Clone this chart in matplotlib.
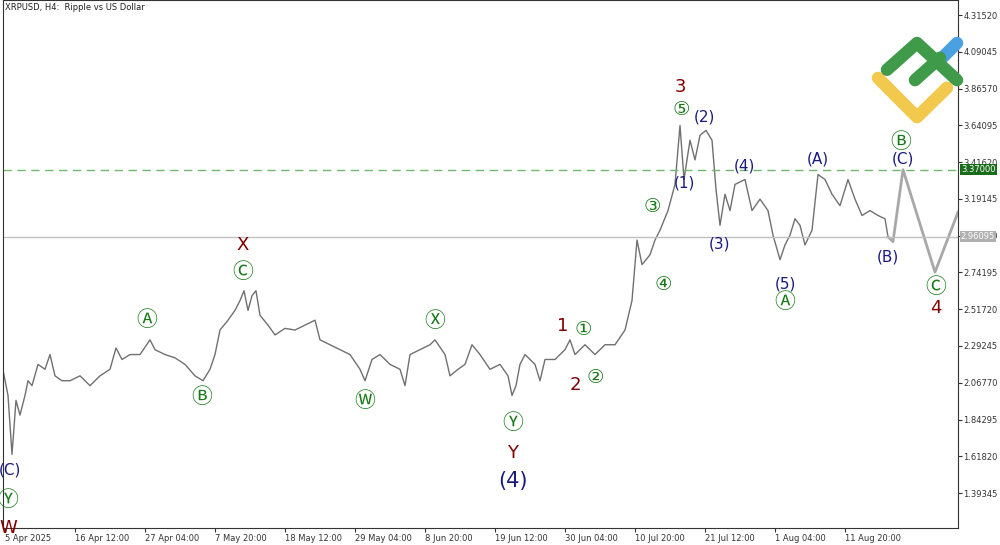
import matplotlib
matplotlib.use("Agg")
import matplotlib.pyplot as plt

plt.rcParams["font.family"] = ["DejaVu Sans", "Noto Sans CJK SC"]

# bar index (one per chart column) and close price
bars = [0, 5, 9, 13, 17, 22, 25, 29, 35, 42, 47, 52, 59, 67, 77, 87, 97, 107, 113, 119, 127, 137,
        147, 152, 162, 172, 182, 192, 200, 207, 212, 217, 225, 232, 237, 241, 245, 249, 253, 257,
        265, 272, 282, 292, 302, 312, 317, 327, 337, 347, 357, 362, 369, 377, 387, 397, 402, 407,
        417, 427, 432, 442, 447, 455, 462, 469, 477, 487, 497, 505, 509, 513, 517, 522, 532, 537,
        542, 552, 562, 567, 572, 582, 592, 602, 612, 622, 629, 634, 639, 647, 652, 657, 665, 672,
        677, 681, 687, 692, 697, 703, 709, 713, 717, 722, 727, 732, 742, 749, 757, 765, 770, 777,
        782, 787, 792, 797, 802, 809, 815, 822, 829, 837, 845, 852, 859, 867, 875, 882, 885]
close = [2.145, 1.99, 1.63, 1.96, 1.87, 1.99, 2.08, 2.05, 2.18, 2.15, 2.24, 2.11, 2.08, 2.08, 2.11,
         2.05, 2.11, 2.15, 2.28, 2.21, 2.24, 2.24, 2.33, 2.27, 2.24, 2.22, 2.18, 2.11, 2.08, 2.15,
         2.24, 2.39, 2.45, 2.51, 2.57, 2.63, 2.51, 2.60, 2.63, 2.48, 2.42, 2.36, 2.40, 2.39, 2.42,
         2.45, 2.33, 2.30, 2.27, 2.24, 2.15, 2.08, 2.21, 2.24, 2.18, 2.15, 2.05, 2.24, 2.27, 2.30,
         2.33, 2.24, 2.11, 2.15, 2.18, 2.30, 2.24, 2.15, 2.18, 2.11, 1.99, 2.05, 2.18, 2.24, 2.18,
         2.08, 2.21, 2.21, 2.27, 2.33, 2.24, 2.30, 2.24, 2.30, 2.30, 2.39, 2.57, 2.94, 2.79, 2.85,
         2.94, 3.00, 3.12, 3.28, 3.64, 3.31, 3.55, 3.43, 3.58, 3.61, 3.55, 3.25, 3.03, 3.22, 3.12,
         3.28, 3.31, 3.12, 3.19, 3.12, 2.97, 2.82, 2.91, 2.97, 3.07, 3.03, 2.91, 3.00, 3.34, 3.31,
         3.22, 3.15, 3.31, 3.19, 3.09, 3.12, 3.09, 3.07, 2.96]
# projected path
proj_bars = [885, 890, 900, 932, 955]
proj_price = [2.96, 2.93, 3.37, 2.744, 3.11]

tick_pos = [2 + 70 * k for k in range(13)]
tick_labels = ["5 Apr 2025", "16 Apr 12:00", "27 Apr 04:00", "7 May 20:00", "18 May 12:00",
               "29 May 04:00", "8 Jun 20:00", "19 Jun 12:00", "30 Jun 04:00", "10 Jul 20:00",
               "21 Jul 12:00", "1 Aug 04:00", "11 Aug 20:00"]
price_ticks = [1.39345, 1.61820, 1.84295, 2.06770, 2.29245, 2.51720, 2.74195,
               2.96670, 3.19145, 3.41620, 3.64095, 3.86570, 4.09045, 4.31520]

GREEN = "#1a7a1a"
NAVY = "#1a1a80"
RED = "#800000"
# (text, bar, price, colour, size)
labels = [
    ("(C)", 7, 1.534, NAVY, 11), ("Ⓨ", 5, 1.351, GREEN, 15), ("W", 5, 1.18, RED, 13),
    ("Ⓐ", 144, 2.451, GREEN, 15), ("Ⓑ", 199, 1.980, GREEN, 15), ("Ⓒ", 240, 2.744, GREEN, 15),
    ("X", 240, 2.910, RED, 13), ("Ⓦ", 362, 1.956, GREEN, 15), ("Ⓧ", 432, 2.445, GREEN, 15),
    ("Ⓨ", 510, 1.822, GREEN, 15), ("Y", 510, 1.638, RED, 13), ("(4)", 510, 1.467, NAVY, 15),
    ("1", 560, 2.414, RED, 13), ("①", 580, 2.396, GREEN, 14), ("2", 572, 2.054, RED, 13),
    ("②", 592, 2.097, GREEN, 14), ("③", 649, 3.142, GREEN, 14), ("④", 660, 2.671, GREEN, 14),
    ("⑤", 678, 3.735, GREEN, 14), ("3", 677, 3.875, RED, 13), ("(1)", 681, 3.288, NAVY, 11),
    ("(2)", 701, 3.692, NAVY, 11), ("(3)", 717, 2.915, NAVY, 11), ("(4)", 741, 3.392, NAVY, 11),
    ("(5)", 782, 2.671, NAVY, 11), ("Ⓐ", 782, 2.561, GREEN, 15), ("(A)", 815, 3.435, NAVY, 11),
    ("(B)", 885, 2.836, NAVY, 11), ("(C)", 900, 3.435, NAVY, 11), ("Ⓑ", 898, 3.539, GREEN, 15),
    ("Ⓒ", 933, 2.653, GREEN, 15), ("4", 933, 2.524, RED, 13),
]

fig = plt.figure(figsize=(10, 5.45), dpi=100)
ax = fig.add_axes([0.003, 17 / 545, 0.955, 528 / 545])
ax.plot(bars, close, color="#707070", linewidth=1.0)
ax.plot(proj_bars, proj_price, color="#a8a8a8", linewidth=2.0)
ax.axhline(3.37, color="#6dba6d", linestyle=(0, (6, 4)), linewidth=1.0)
ax.axhline(2.96095, color="#c0c0c0", linewidth=1.0)

for txt, b, p, c, s in labels:
    ax.text(b, p, txt, color=c, fontsize=s, ha="center", va="center")

ax.text(2, 4.39, "XRPUSD, H4:  Ripple vs US Dollar", fontsize=6, va="top", color="#222222")

ax.set_xlim(0, 955)
ax.set_ylim(1.18, 4.407)
ax.set_xticks(tick_pos)
ax.set_xticklabels(tick_labels, fontsize=6, ha="left")
ax.set_yticks(price_ticks)
ax.set_yticklabels([f"{v:.5f}" for v in price_ticks], fontsize=6)
ax.yaxis.tick_right()
ax.tick_params(length=3, pad=1, colors="#333333")
for s in ax.spines.values():
    s.set_color("#333333")
    s.set_linewidth(0.8)

ax.text(1.003, 3.37, "3.37000", transform=ax.get_yaxis_transform(), fontsize=6, color="white",
        va="center", ha="left", bbox=dict(boxstyle="square,pad=0.15", fc="#1a6b1a", ec="none"))
ax.text(1.003, 2.96095, "2.96095", transform=ax.get_yaxis_transform(), fontsize=6, color="white",
        va="center", ha="left", bbox=dict(boxstyle="square,pad=0.15", fc="#b0b0b0", ec="none"))

# logo
def logo_line(xs, ys, col):
    fig.lines.append(plt.Line2D(xs, ys, transform=fig.transFigure, color=col,
                                linewidth=9, solid_capstyle="round"))

logo_line([0.878, 0.917, 0.947], [0.857, 0.785, 0.839], "#f2c94c")
logo_line([0.938, 0.957], [0.886, 0.921], "#4aa0e0")
logo_line([0.887, 0.917, 0.957], [0.872, 0.921, 0.853], "#3f9a4a")
logo_line([0.915, 0.940], [0.853, 0.894], "#3f9a4a")

fig.savefig("out.png", dpi=100)
